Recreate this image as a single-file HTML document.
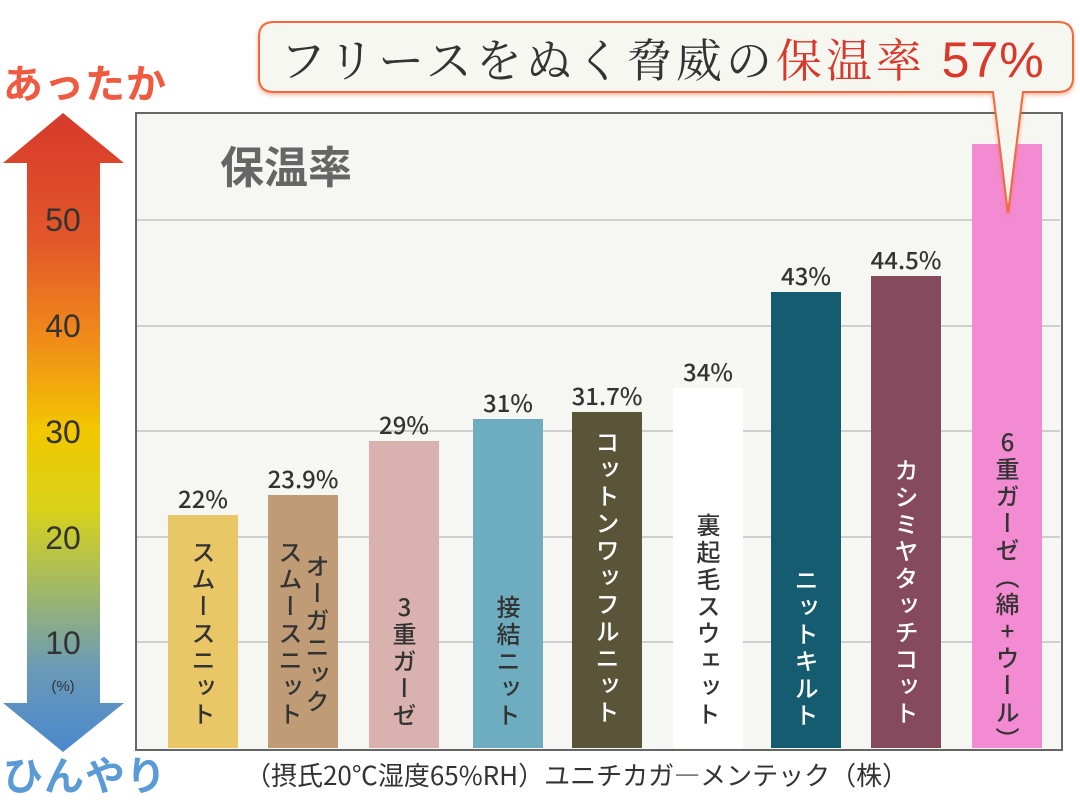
<!DOCTYPE html>
<html><head><meta charset="utf-8"><style>
body{margin:0;width:1080px;height:800px;background:#fff;position:relative;overflow:hidden;font-family:"Liberation Sans","Noto Sans CJK JP",sans-serif;color:#333}
.a{position:absolute}
.bar{position:absolute;width:70px}
.val{position:absolute;width:110px;text-align:center;font-size:24px;font-weight:500;color:#333;letter-spacing:0px;font-family:"Noto Sans CJK JP",sans-serif;line-height:30px}
.vt{position:absolute;writing-mode:vertical-rl;text-orientation:upright;font-size:24px;font-weight:500;letter-spacing:3px;line-height:24px;font-family:"Noto Sans CJK JP",sans-serif}
.grid{position:absolute;left:137px;width:923px;height:2px;background:#cfcfcf}
.tick{position:absolute;left:20px;width:86px;text-align:center;font-size:32px;color:#333}
</style></head><body>
<svg class="a" style="left:0;top:110px" width="130" height="645">
<defs><linearGradient id="g" x1="0" y1="0" x2="0" y2="1">
<stop offset="0" stop-color="#d63a2a"/><stop offset="0.2" stop-color="#e3572a"/><stop offset="0.35" stop-color="#f08a1a"/><stop offset="0.5" stop-color="#f2c800"/><stop offset="0.62" stop-color="#d8d21a"/><stop offset="0.75" stop-color="#9fb86a"/><stop offset="0.87" stop-color="#6a9ab8"/><stop offset="1" stop-color="#4a88cc"/></linearGradient></defs>
<polygon points="63,3 124,53 100,53 100,593 124,593 63,642 3,593 27,593 27,53 3,53" fill="url(#g)"/>
</svg>
<div class="a" style="left:3px;top:56px;font-size:40px;font-weight:bold;color:#f05a40;font-family:'Noto Sans CJK JP',sans-serif;letter-spacing:1px;line-height:50px">あったか</div>
<div class="a" style="left:3px;top:748px;font-size:40px;font-weight:bold;color:#5b9bd5;font-family:'Noto Sans CJK JP',sans-serif;letter-spacing:1px;line-height:50px">ひんやり</div>
<div class="tick" style="top:202px">50</div>
<div class="tick" style="top:308px">40</div>
<div class="tick" style="top:414px">30</div>
<div class="tick" style="top:520px">20</div>
<div class="tick" style="top:625px">10</div>
<div class="a" style="left:20px;width:86px;text-align:center;top:678px;font-size:15px;color:#333">(%)</div>
<div class="a" style="left:135px;top:112px;width:924px;height:635px;background:#f6f6f2;border:2px solid #666"></div>
<div class="grid" style="top:219px"></div>
<div class="grid" style="top:325px"></div>
<div class="grid" style="top:430px"></div>
<div class="grid" style="top:536px"></div>
<div class="grid" style="top:641px"></div>
<div class="a" style="left:220px;top:136px;font-size:44px;font-weight:bold;color:#666;font-family:'Noto Sans CJK JP',sans-serif;line-height:56px">保温率</div>
<div class="bar" style="left:168px;top:515px;height:233px;background:#e9c666"></div>
<div class="bar" style="left:268px;top:495px;height:253px;background:#bf9c76"></div>
<div class="bar" style="left:369px;top:441px;height:307px;background:#d9b2af"></div>
<div class="bar" style="left:473px;top:419px;height:329px;background:#6eadbf"></div>
<div class="bar" style="left:572px;top:412px;height:336px;background:#5a5438"></div>
<div class="bar" style="left:673px;top:388px;height:360px;background:#ffffff"></div>
<div class="bar" style="left:771px;top:292px;height:456px;background:#155c70"></div>
<div class="bar" style="left:871px;top:276px;height:472px;background:#854a5d"></div>
<div class="bar" style="left:972px;top:144px;height:604px;background:#f38bd3"></div>
<div class="val" style="left:148px;top:483px">22%</div>
<div class="val" style="left:248px;top:463px">23.9%</div>
<div class="val" style="left:349px;top:409px">29%</div>
<div class="val" style="left:453px;top:387px">31%</div>
<div class="val" style="left:552px;top:380px">31.7%</div>
<div class="val" style="left:653px;top:356px">34%</div>
<div class="val" style="left:751px;top:260px">43%</div>
<div class="val" style="left:851px;top:244px">44.5%</div>
<div class="vt" style="left:191px;top:540px;color:#333">スムースニット</div>
<div class="vt" style="left:305px;top:554px;color:#333">オーガニック</div>
<div class="vt" style="left:278px;top:540px;color:#333">スムースニット</div>
<div class="vt" style="left:392px;top:595px;color:#333">3重ガーゼ</div>
<div class="vt" style="left:496px;top:595px;color:#333">接結ニット</div>
<div class="vt" style="left:595px;top:430px;color:#fff">コットンワッフルニット</div>
<div class="vt" style="left:696px;top:513px;color:#333">裏起毛スウェット</div>
<div class="vt" style="left:794px;top:568px;color:#fff">ニットキルト</div>
<div class="vt" style="left:894px;top:458px;color:#fff">カシミヤタッチコット</div>
<div class="vt" style="left:995px;top:430px;color:#333">6重ガーゼ（綿+ウール）</div>
<div class="a" style="left:245px;top:757px;font-size:26px;color:#333;font-family:'Noto Sans CJK JP',sans-serif;line-height:36px">（摂氏20℃湿度65%RH）ユニチカガ―メンテック（株）</div>
<svg class="a" style="left:250px;top:15px" width="830" height="205">
<defs><filter id="s"><feDropShadow dx="0" dy="2" stdDeviation="2" flood-color="#f06a3c" flood-opacity="0.5"/></filter></defs>
<path d="M24,7 H808 Q823,7 823,22 V63 Q823,77 808,77 H773 L758,198 L743,77 H24 Q9,77 9,63 V22 Q9,7 24,7 Z" fill="#f7f7f2" stroke="#f06a3c" stroke-width="2" filter="url(#s)"/>
</svg>
<div class="a" style="left:280px;top:28px;font-size:46px;line-height:60px;font-family:'Noto Serif CJK SC','Liberation Serif',serif;color:#333;letter-spacing:4px;white-space:nowrap">フリースをぬく脅威の<span style="color:#d9392a">保温率 <span style="font-family:'Liberation Sans',sans-serif;font-size:50px;letter-spacing:1px">57%</span></span></div>
</body></html>
